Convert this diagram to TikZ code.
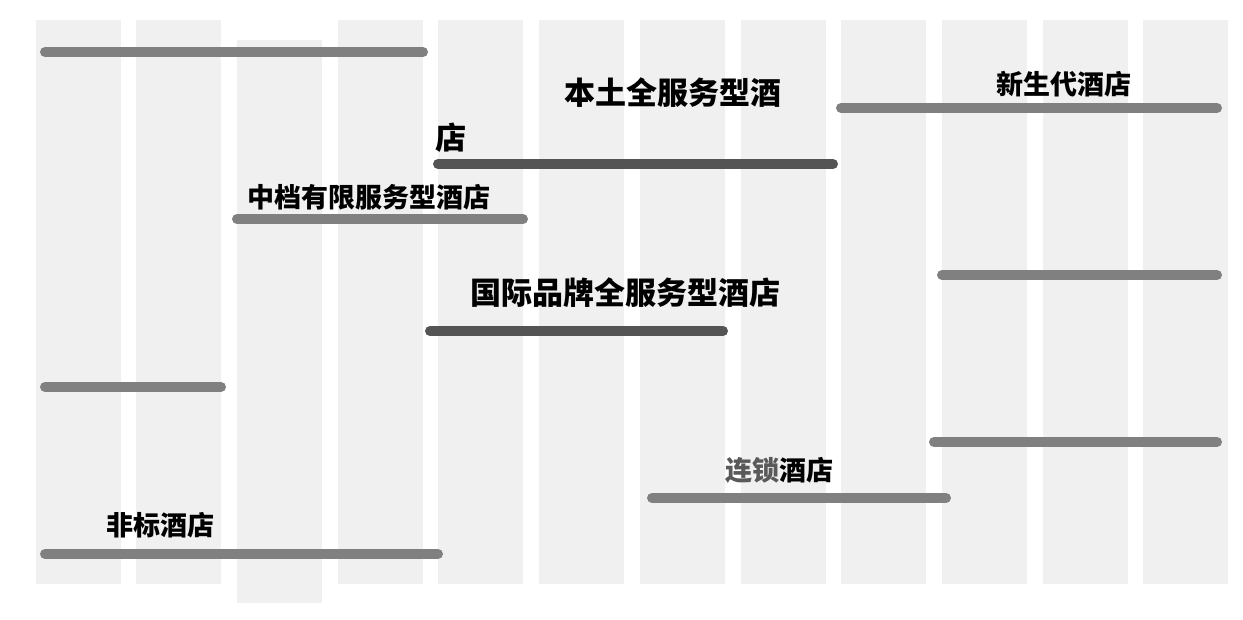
\documentclass[tikz,border=0pt]{standalone}
\usepackage{fontspec}
\newfontfamily\cjk{Noto Sans CJK SC}
\begin{document}
\begin{tikzpicture}[x=1pt,y=-1pt,
  col/.style={fill=black!6,draw=none},
  bar/.style={line width=10pt,line cap=round,draw=black!50},
  dbar/.style={line width=10pt,line cap=round,draw=black!67},
  lbl/.style={font=\cjk\bfseries\fontsize{#1}{#1}\selectfont,inner sep=0pt,anchor=center}]
\useasboundingbox[fill=white] (0,0) rectangle (1243,620);
\foreach \x in {36,136,338,438,539,640,741,841,942,1043,1143}
  \fill[col] (\x,20) rectangle ++(85,564);
\fill[col] (237,40) rectangle (322,603);
\coordinate (a1) at (45,52);  \coordinate (a2) at (423,52);
\coordinate (b1) at (841,108); \coordinate (b2) at (1217,108);
\coordinate (c1) at (438,164); \coordinate (c2) at (833,164);
\coordinate (d1) at (237,219); \coordinate (d2) at (523,219);
\coordinate (e1) at (942,275); \coordinate (e2) at (1217,275);
\coordinate (f1) at (430,331); \coordinate (f2) at (723,331);
\coordinate (g1) at (45,387); \coordinate (g2) at (221,387);
\coordinate (h1) at (934,442); \coordinate (h2) at (1217,442);
\coordinate (i1) at (652,498); \coordinate (i2) at (946,498);
\coordinate (j1) at (45,554); \coordinate (j2) at (438,554);
\draw[bar] (a1)--(a2); \draw[bar] (b1)--(b2); \draw[dbar] (c1)--(c2);
\draw[bar] (d1)--(d2); \draw[bar] (e1)--(e2); \draw[dbar] (f1)--(f2);
\draw[bar] (g1)--(g2); \draw[bar] (h1)--(h2); \draw[bar] (i1)--(i2);
\draw[bar] (j1)--(j2);
\node[lbl=31] (t1) at (673,93) {本土全服务型酒};
\node[lbl=31] (t1b) at (451,138) {店};
\node[lbl=27] (t2) at (1064,84) {新生代酒店};
\node[lbl=27] (t3) at (369,197) {中档有限服务型酒店};
\node[lbl=31] (t4) at (625,293) {国际品牌全服务型酒店};
\node[lbl=27] (t5) at (779,470) {\textcolor{black!65}{连锁}酒店};
\node[lbl=27] (t6) at (160,525) {非标酒店};
\end{tikzpicture}
\end{document}
